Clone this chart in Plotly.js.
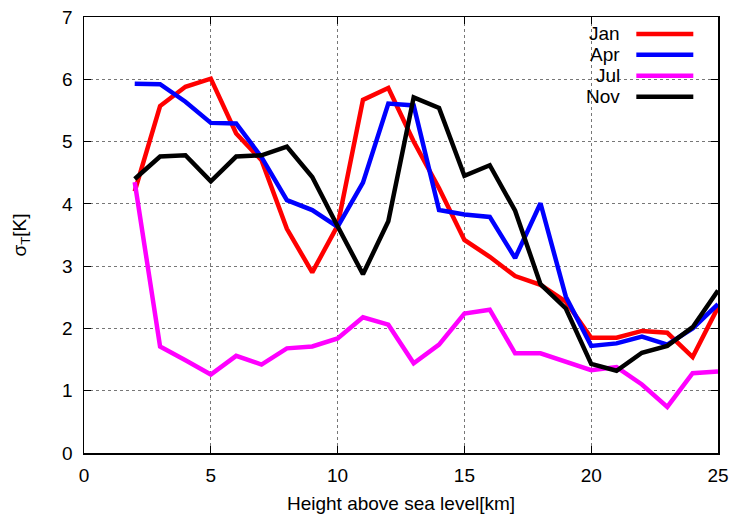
<!DOCTYPE html>
<html>
<head>
<meta charset="utf-8">
<script src="https://cdn.plot.ly/plotly-3.0.1.min.js"></script>
<style>html,body{margin:0;padding:0;background:#fff}#chart{width:734px;height:519px}</style>
</head>
<body>
<div id="chart"></div>
<script>
const heights = [2,3,4,5,6,7,8,9,10,11,12,13,14,15,16,17,18,19,20,21,22,23,24,25];
const jan = [4.2,5.57,5.88,6.01,5.13,4.7,3.6,2.9,3.65,5.67,5.86,5.0,4.25,3.42,3.15,2.84,2.7,2.43,1.85,1.85,1.96,1.93,1.54,2.34];
const apr = [5.93,5.92,5.64,5.3,5.29,4.75,4.06,3.9,3.63,4.34,5.61,5.58,3.9,3.83,3.79,3.13,4.01,2.51,1.72,1.76,1.87,1.74,2.0,2.39];
const jul = [4.35,1.71,1.49,1.26,1.56,1.42,1.68,1.71,1.84,2.18,2.06,1.44,1.74,2.24,2.3,1.6,1.6,1.46,1.33,1.38,1.1,0.74,1.28,1.31];
const nov = [4.4,4.76,4.78,4.36,4.76,4.78,4.92,4.43,3.64,2.87,3.72,5.71,5.54,4.45,4.62,3.89,2.71,2.32,1.43,1.32,1.61,1.72,2.02,2.61];
const seriesNames = ["Jan","Apr","Jul","Nov"];
const seriesColors = ["#ff0000","#0000ff","#ff00ff","#000000"];
const seriesData = [jan, apr, jul, nov];
const xTicks = [0,5,10,15,20,25];
const yTicks = [0,1,2,3,4,5,6,7];

const FONT = "Liberation Sans, Arial, sans-serif";
const traces = seriesData.map((ys, i) => ({
  x: heights, y: ys, type: "scatter", mode: "lines", name: seriesNames[i],
  line: {color: seriesColors[i], width: 4.5}, showlegend: false
}));

// custom gnuplot-style legend (text right, then line sample)
const annotations = [];
const shapes = [];
seriesNames.forEach((n, i) => {
  const yPix = 34 + i * 20.9;
  const yPaper = 1 - (yPix - 17) / (453.4 - 17);
  annotations.push({xref: "paper", yref: "paper", x: (622 - 83.5) / (717.7 - 83.5), y: yPaper,
    xanchor: "right", yanchor: "middle", text: n, showarrow: false,
    font: {family: FONT, size: 19, color: "#000"}});
  shapes.push({type: "line", xref: "paper", yref: "paper",
    x0: (636 - 83.5) / (717.7 - 83.5), x1: (693 - 83.5) / (717.7 - 83.5), y0: yPaper, y1: yPaper,
    line: {color: seriesColors[i], width: 4.5}});
});

const axisCommon = {
  showline: true, mirror: "ticks", linecolor: "#000", linewidth: 1.5,
  ticks: "inside", ticklen: 7, tickwidth: 1, tickcolor: "#000",
  showgrid: true, gridcolor: "#777", griddash: "dot", gridwidth: 1,
  zeroline: false, tickfont: {family: FONT, size: 19, color: "#000"}
};

const layout = {
  width: 734, height: 519,
  margin: {l: 83.5, r: 16.3, t: 17, b: 65.6},
  paper_bgcolor: "#fff", plot_bgcolor: "#fff",
  font: {family: FONT, size: 19, color: "#000"},
  xaxis: Object.assign({}, axisCommon, {
    range: [0, 25], tickvals: xTicks, ticktext: xTicks.map(String), ticklabelstandoff: 5,
    title: {text: "Height above sea level[km]", font: {family: FONT, size: 19}, standoff: 11}
  }),
  yaxis: Object.assign({}, axisCommon, {
    range: [0, 7], tickvals: yTicks, ticktext: yTicks.map(String), ticklabelstandoff: 6,
    title: {text: "σ<sub>T</sub>[K]", font: {family: FONT, size: 19}, standoff: 30}
  }),
  annotations: annotations,
  shapes: shapes
};

Plotly.newPlot("chart", traces, layout, {staticPlot: true, displayModeBar: false});
</script>
</body>
</html>
